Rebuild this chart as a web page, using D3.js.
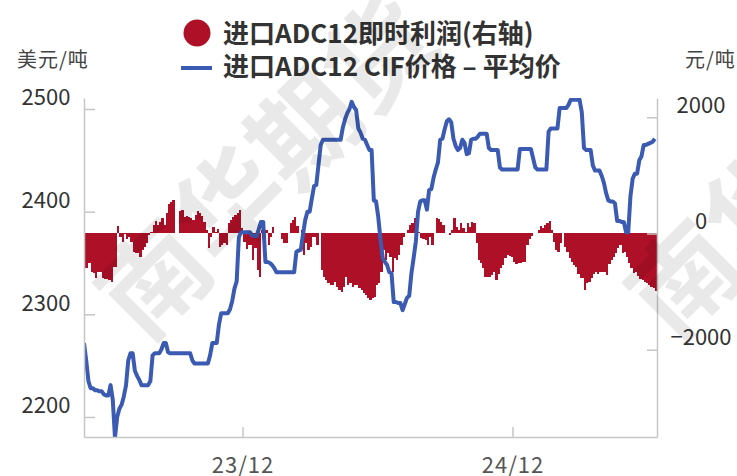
<!DOCTYPE html>
<html>
<head>
<meta charset="utf-8">
<script src="https://cdn.jsdelivr.net/npm/d3@7"></script>
<style>
  body { margin: 0; background: #fff; }
  svg text { font-family: "Noto Sans CJK SC", "Noto Sans", sans-serif; }
</style>
</head>
<body>
<svg id="chart" width="737" height="476"></svg>
<script>
// one reading every 3 days, starting 2023-04-30
var startDate = "2023-04-30";
var endDate = "2025-06-15";
var stepDays = 3;

// 进口ADC12 CIF价格 - 平均价 (美元/吨, left axis)
var price = [
  2272,2255,2235,2228,2228,2226,2226,2225,2225,2222,
  2221,2221,2231,2217,2180,2200,2208,2212,2220,2231,
  2255,2262,2262,2245,2240,2236,2231,2231,2231,2231,
  2235,2260,2262,2262,2262,2266,2272,2272,2263,2262,
  2262,2262,2262,2262,2262,2262,2262,2262,2262,2255,
  2252,2252,2252,2252,2252,2252,2252,2260,2272,2272,
  2272,2290,2301,2301,2301,2301,2305,2313,2325,2332,
  2375,2380,2380,2380,2380,2380,2377,2376,2376,2383,
  2390,2390,2351,2351,2350,2348,2345,2341,2341,2341,
  2341,2341,2341,2341,2341,2341,2361,2362,2363,2378,
  2392,2400,2400,2413,2425,2426,2446,2465,2470,2470,
  2470,2470,2470,2470,2470,2470,2470,2482,2490,2496,
  2500,2507,2502,2499,2481,2477,2471,2470,2465,2460,
  2460,2411,2410,2395,2373,2355,2351,2348,2341,2340,
  2312,2312,2311,2311,2304,2310,2316,2318,2340,2355,
  2371,2400,2410,2411,2411,2402,2421,2422,2433,2441,
  2448,2470,2471,2480,2488,2490,2487,2471,2464,2460,
  2462,2470,2467,2456,2457,2470,2471,2471,2473,2476,
  2476,2476,2476,2462,2460,2460,2460,2460,2443,2441,
  2441,2441,2441,2441,2441,2441,2441,2461,2461,2461,
  2461,2461,2461,2452,2443,2441,2441,2441,2441,2441,
  2478,2481,2481,2481,2481,2501,2501,2501,2501,2504,
  2509,2509,2509,2509,2509,2497,2462,2460,2460,2460,
  2445,2440,2440,2440,2435,2428,2418,2411,2410,2410,
  2408,2391,2391,2390,2390,2380,2380,2415,2432,2437,
  2437,2450,2454,2465,2465,2466,2467,2468,2471
];

// 进口ADC12即时利润 (元/吨, right axis)
var profit = [
  -599,-599,-513,-657,-674,-771,-657,-657,-771,-788,
  -788,-800,-829,-571,-571,129,-55,-141,-10,-100,
  -60,-150,-313,-341,-330,-399,-284,-227,-170,-30,
  20,150,220,147,200,258,147,350,500,548,
  580,0,0,380,404,290,300,290,260,240,
  318,380,360,300,200,60,-255,-55,118,30,
  80,-227,-198,-170,-198,176,230,280,319,350,
  404,100,-141,-273,-200,-198,-456,-255,-628,-743,
  60,-112,60,-198,-55,118,0,0,0,-100,
  -170,-170,0,176,232,290,130,0,60,-370,
  -170,-284,-227,-55,-55,-198,0,-628,-743,-800,
  -857,-886,-886,-830,-915,-972,-1000,-915,-743,-886,
  -857,-915,-886,-886,-943,-980,-1029,-1058,-1115,-1144,
  -1115,-1100,-886,-857,-657,-284,-456,-341,-400,-657,
  -427,-456,-370,-198,-55,0,60,147,176,261,
  176,30,-84,-100,-112,-198,-55,-200,0,260,
  250,190,140,0,0,-30,60,261,118,60,
  176,100,30,176,118,200,176,-170,-456,-513,
  -600,-743,-743,-743,-714,-657,-800,-700,-599,-542,
  -420,-370,-380,-410,-485,-520,-513,-513,-485,-485,
  -198,-100,-40,0,0,60,130,90,147,176,
  220,60,-141,-284,-313,-170,0,-240,-313,-420,
  -485,-542,-580,-690,-771,-771,-972,-857,-829,-770,
  -700,-657,-700,-657,-657,-657,-714,-530,-450,-399,
  -330,-250,-200,-341,-320,-399,-513,-590,-686,-657,
  -730,-780,-800,-829,-850,-886,-925,-943,-985
];

var leftTicks = [2200, 2300, 2400, 2500];
var rightTicks = [-2000, 0, 2000];
var xTicks = ["2023-12-01", "2024-12-01"];
var legendNames = ["进口ADC12即时利润(右轴)", "进口ADC12 CIF价格 – 平均价"];
var leftUnit = "美元/吨";
var rightUnit = "元/吨";
var watermark = "南华期货";

var red = "#ae1027";
var blue = "#3b5bb3";
var axisGray = "#c6c6c6";

// plot box (window.top is read-only, so no bare "top")
var pLeft = 84, pRight = 657, pTop = 98, pBottom = 437;

var parse = d3.timeParse("%Y-%m-%d");
var t0 = parse(startDate);
var dates = price.map(function(d, i) { return d3.timeDay.offset(t0, i * stepDays); });

var x = d3.scaleTime().domain([t0, parse(endDate)]).range([pLeft, pRight]);
var yL = d3.scaleLinear().domain([2180.5, 2510.7]).range([pBottom, pTop]);
var yR = d3.scaleLinear().domain([-3501, 2331]).range([pBottom, pTop]);

var svg = d3.select("#chart");

svg.append("defs").append("clipPath").attr("id", "plot")
  .append("rect").attr("x", pLeft).attr("y", pTop)
  .attr("width", pRight - pLeft).attr("height", pBottom - pTop);

// profit bars
svg.append("g").attr("clip-path", "url(#plot)")
  .selectAll("rect")
  .data(profit)
  .enter()
  .append("rect")
  .attr("x", function(d, i) { return x(dates[i]); })
  .attr("width", function(d, i) { return x(d3.timeDay.offset(dates[i], stepDays)) - x(dates[i]); })
  .attr("y", function(d) { return yR(Math.max(0, d)); })
  .attr("height", function(d) { return Math.abs(yR(d) - yR(0)); })
  .attr("fill", red)
  .attr("shape-rendering", "crispEdges");

// price line
var line = d3.line()
  .x(function(d, i) { return x(dates[i]); })
  .y(function(d) { return yL(d); });

svg.append("path")
  .datum(price)
  .attr("clip-path", "url(#plot)")
  .attr("d", line)
  .attr("fill", "none")
  .attr("stroke", blue)
  .attr("stroke-width", 4)
  .attr("stroke-linejoin", "round");

// axes
var gL = svg.append("g").attr("transform", "translate(" + pLeft + ",0)")
  .call(d3.axisLeft(yL).tickValues(leftTicks).tickSize(-11).tickSizeOuter(0).tickFormat(d3.format("d")));
var gR = svg.append("g").attr("transform", "translate(" + pRight + ",0)")
  .call(d3.axisRight(yR).tickValues(rightTicks).tickSize(-10).tickSizeOuter(0).tickFormat(d3.format("d")));
var gB = svg.append("g").attr("transform", "translate(0," + pBottom + ")")
  .call(d3.axisBottom(x).tickValues(xTicks.map(parse)).tickSize(-10).tickSizeOuter(0)
    .tickFormat(d3.timeFormat("%y/%m")));

[gL, gR, gB].forEach(function(g) {
  g.select(".domain").attr("stroke", axisGray).attr("stroke-width", 1.5);
  g.selectAll(".tick line").attr("stroke", axisGray).attr("stroke-width", 1.5);
  g.selectAll("text").attr("font-family", null).attr("font-size", 22);
});

gL.selectAll(".tick text").attr("x", -38).attr("y", -4).attr("dy", 0)
  .attr("text-anchor", "middle").attr("fill", "#333");
gR.selectAll(".tick text").attr("x", 44).attr("y", -5).attr("dy", 0)
  .attr("text-anchor", "middle").attr("fill", "#333");
gB.selectAll(".tick text").attr("y", 36).attr("dy", 0)
  .attr("fill", "#555").attr("letter-spacing", 1);

// units
svg.append("text").attr("x", 17).attr("y", 67).attr("font-size", 20)
  .attr("letter-spacing", 1).attr("fill", "#444").text(leftUnit);
svg.append("text").attr("x", 685).attr("y", 67).attr("font-size", 20)
  .attr("letter-spacing", 1).attr("fill", "#444").text(rightUnit);

// legend
svg.append("circle").attr("cx", 197).attr("cy", 33).attr("r", 13.5).attr("fill", red);
svg.append("line").attr("x1", 181).attr("x2", 212).attr("y1", 68).attr("y2", 68)
  .attr("stroke", blue).attr("stroke-width", 4);
svg.selectAll(".legend")
  .data(legendNames)
  .enter()
  .append("text")
  .attr("class", "legend")
  .attr("x", 223)
  .attr("y", function(d, i) { return i === 0 ? 43 : 76; })
  .attr("font-size", 26)
  .attr("font-weight", "bold")
  .attr("fill", "#333")
  .text(function(d) { return d; });

// watermark
[[262, 162], [792, 162]].forEach(function(p) {
  svg.append("text")
    .attr("transform", "translate(" + p[0] + "," + p[1] + ") rotate(-45)")
    .attr("text-anchor", "middle")
    .attr("dominant-baseline", "central")
    .attr("font-size", 106)
    .attr("font-weight", 600)
    .attr("fill", "#000")
    .attr("fill-opacity", 0.085)
    .text(watermark);
});
</script>
</body>
</html>
